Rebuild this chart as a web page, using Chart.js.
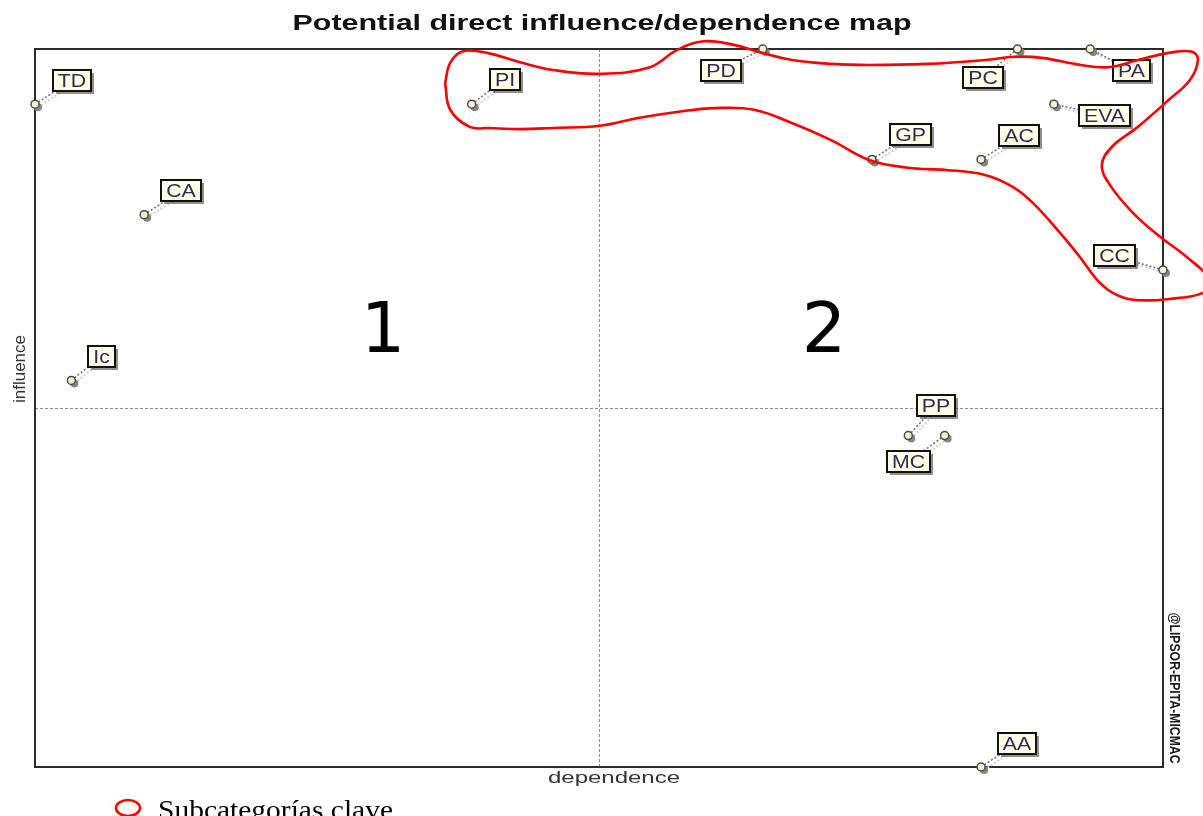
<!DOCTYPE html>
<html>
<head>
<meta charset="utf-8">
<title>Potential direct influence/dependence map</title>
<script src="https://cdn.jsdelivr.net/npm/chart.js@4.4.1/dist/chart.umd.min.js"></script>
<style>
  html, body { margin: 0; padding: 0; background: #fff; overflow: hidden; }
  #wrap { width: 1203px; height: 816px; }
</style>
</head>
<body>
<div id="wrap"><canvas id="mapChart" width="1203" height="816"></canvas></div>
<script>
// Subcategorías (variables MICMAC)
const names = ['TD', 'PI', 'PD', 'PC', 'PA', 'EVA', 'GP', 'AC', 'CA', 'CC', 'Ic', 'PP', 'MC', 'AA']
const dependence = [0, 12, 20, 27, 29, 28, 23, 26, 3, 31, 1, 24, 25, 26]
const influence = [12, 12, 13, 13, 13, 12, 11, 11, 10, 9, 7, 6, 6, 0]

// axis ranges (no tick labels on the original)
const depRange = [0, 31]
const infRange = [0, 13]

// hand-drawn outline around the key subcategories, in axis units
const outlineDep = [11.27, 11.41, 11.76, 12.42, 13.33, 14.24, 15.53, 16.90, 17.64, 18.39, 19.24, 19.98, 20.80, 21.88,
  22.92, 24.51, 26.11, 26.93, 27.67, 28.75, 29.49, 30.31, 31.16, 31.80, 31.96, 31.74, 31.16, 30.31, 29.60, 29.32,
  29.54, 30.18, 30.92, 31.66, 32.29, 32.15, 31.11, 30.18, 29.63, 29.19, 28.72, 28.17, 27.43, 26.88, 26.11, 25.04,
  23.99, 22.92, 21.88, 20.80, 19.76, 18.69, 17.64, 16.57, 15.53, 14.24, 13.33, 12.50, 11.95, 11.41, 11.27]
const outlineInf = [12.38, 12.75, 12.96, 12.93, 12.76, 12.62, 12.55, 12.67, 12.98, 13.14, 13.07, 12.93, 12.80, 12.73,
  12.71, 12.73, 12.80, 12.86, 12.84, 12.71, 12.67, 12.80, 12.93, 12.95, 12.80, 12.44, 12.08, 11.59, 11.23, 10.90,
  10.54, 10.03, 9.60, 9.23, 8.82, 8.60, 8.47, 8.46, 8.58, 8.82, 9.23, 9.67, 10.21, 10.50, 10.72, 10.81,
  10.85, 10.99, 11.35, 11.66, 11.90, 11.93, 11.86, 11.75, 11.61, 11.57, 11.55, 11.57, 11.59, 11.90, 12.38]

const legendLabel = 'Subcategorías clave'

// where each label box sits relative to its point (px)
const labelPlacement = {
  TD: [37, -24], PI: [33, -25], PD: [-42, 21], PC: [-34, 28], PA: [41, 21], EVA: [51, 11], GP: [39, -25],
  AC: [38, -24], CA: [37, -24], CC: [-49, -14], Ic: [30, -24], PP: [28, -30], MC: [-36, 26], AA: [36, -24]
}

// draws text squeezed/stretched horizontally to a given width
function fitText(ctx, text, x, y, width, align) {
  const w = ctx.measureText(text).width
  ctx.save()
  ctx.translate(x, y)
  ctx.scale(width / w, 1)
  ctx.textAlign = align || 'center'
  ctx.fillText(text, 0, 0)
  ctx.restore()
}

const micmacPlugin = {
  id: 'micmac',
  beforeDatasetsDraw(chart) {
    const { ctx, chartArea: a, scales } = chart
    const midX = scales.x.getPixelForValue((depRange[0] + depRange[1]) / 2)
    const midY = scales.y.getPixelForValue((infRange[0] + infRange[1]) / 2)

    ctx.save()
    ctx.strokeStyle = '#8a8a8a'
    ctx.lineWidth = 1
    ctx.setLineDash([3, 2])
    ctx.beginPath()
    ctx.moveTo(Math.round(midX) + 0.5, a.top)
    ctx.lineTo(Math.round(midX) + 0.5, a.bottom)
    ctx.moveTo(a.left, Math.round(midY) + 0.5)
    ctx.lineTo(a.right, Math.round(midY) + 0.5)
    ctx.stroke()
    ctx.setLineDash([])
    ctx.strokeStyle = '#2b2b2b'
    ctx.lineWidth = 2
    ctx.strokeRect(a.left, a.top, a.right - a.left, a.bottom - a.top)
    ctx.restore()
  },
  beforeDatasetDraw(chart, args) {
    if (args.index !== 0) return
    const ctx = chart.ctx
    const meta = args.meta
    ctx.save()
    meta.data.forEach((pt, i) => {
      const off = labelPlacement[names[i]]
      const bx = pt.x + off[0]
      const by = pt.y + off[1]
      // connector shadow + dotted connector
      ctx.lineWidth = 2
      ctx.setLineDash([2, 2])
      ctx.strokeStyle = '#cfcfcf'
      ctx.beginPath()
      ctx.moveTo(pt.x + 3, pt.y + 3)
      ctx.lineTo(bx + 3, by + 3)
      ctx.stroke()
      ctx.strokeStyle = '#707070'
      ctx.lineWidth = 1.5
      ctx.beginPath()
      ctx.moveTo(pt.x, pt.y)
      ctx.lineTo(bx, by)
      ctx.stroke()
      ctx.setLineDash([])
      // marker shadow
      ctx.fillStyle = '#858585'
      ctx.beginPath()
      ctx.arc(pt.x + 3, pt.y + 3, 4, 0, Math.PI * 2)
      ctx.fill()
    })
    ctx.restore()
  },
  afterDatasetDraw(chart, args) {
    if (args.index !== 0) return
    const ctx = chart.ctx
    ctx.save()
    ctx.font = '19px "Liberation Sans", Arial, sans-serif'
    ctx.textBaseline = 'middle'
    args.meta.data.forEach((pt, i) => {
      const name = names[i]
      const off = labelPlacement[name]
      const bx = pt.x + off[0]
      const by = pt.y + off[1]
      const tw = ctx.measureText(name).width * 1.12
      const w = Math.round(tw + 10)
      const h = 21
      const x0 = Math.round(bx - w / 2)
      const y0 = Math.round(by - h / 2)
      ctx.fillStyle = 'rgba(70,70,70,0.6)'
      ctx.fillRect(x0 + 3, y0 + 3, w, h)
      ctx.fillStyle = '#fffde4'
      ctx.fillRect(x0, y0, w, h)
      ctx.strokeStyle = '#111'
      ctx.lineWidth = 2
      ctx.strokeRect(x0, y0, w, h)
      ctx.fillStyle = '#2c2a58'
      fitText(ctx, name, x0 + w / 2, y0 + h / 2 + 1, tw)
    })
    ctx.restore()
  },
  afterDraw(chart) {
    const { ctx, chartArea: a } = chart
    ctx.save()
    ctx.fillStyle = '#111'
    ctx.textBaseline = 'alphabetic'

    // title
    ctx.font = 'bold 22px "Liberation Sans", Arial, sans-serif'
    fitText(ctx, 'Potential direct influence/dependence map', 602, 30, 619)

    // axis titles
    ctx.fillStyle = '#333'
    ctx.font = '16px "Liberation Sans", Arial, sans-serif'
    fitText(ctx, 'dependence', 614, 783, 132)
    ctx.save()
    ctx.translate(25, 369)
    ctx.rotate(-Math.PI / 2)
    fitText(ctx, 'influence', 0, 0, 68)
    ctx.restore()

    // copyright stamp
    ctx.fillStyle = '#1a1a1a'
    ctx.font = 'bold 14px "Liberation Sans", Arial, sans-serif'
    ctx.save()
    ctx.translate(1170, 688)
    ctx.rotate(Math.PI / 2)
    fitText(ctx, '@LIPSOR-EPITA-MICMAC', 0, 0, 151)
    ctx.restore()

    // quadrant numbers
    ctx.fillStyle = '#000'
    ctx.font = '70px "DejaVu Sans", sans-serif'
    ctx.textAlign = 'center'
    ctx.fillText('1', a.left + 348, 352)
    ctx.fillText('2', a.left + 789, 352)

    // legend
    ctx.strokeStyle = '#ff0000'
    ctx.lineWidth = 2.5
    ctx.beginPath()
    ctx.ellipse(128, 808, 12, 8, 0, 0, Math.PI * 2)
    ctx.stroke()
    ctx.fillStyle = '#000'
    ctx.font = '28px "Liberation Serif", "Times New Roman", serif'
    fitText(ctx, legendLabel, 158, 819, 235, 'left')
    ctx.restore()
  }
}

const ctx = document.getElementById('mapChart')

new Chart(ctx, {
  type: 'scatter',
  data: {
    datasets: [{
      label: 'subcategorías',
      data: names.map((n, i) => ({ x: dependence[i], y: influence[i] })),
      pointStyle: 'circle',
      pointRadius: 4,
      pointBackgroundColor: '#f6f2cf',
      pointBorderColor: '#4a4a4a',
      pointBorderWidth: 1.5,
      clip: false,
      order: 1
    }, {
      label: legendLabel,
      data: outlineDep.map((d, i) => ({ x: d, y: outlineInf[i] })),
      showLine: true,
      tension: 0.4,
      borderColor: '#ff0000',
      borderWidth: 2.6,
      pointRadius: 0,
      fill: false,
      clip: false,
      order: 0
    }]
  },
  options: {
    responsive: false,
    animation: false,
    events: [],
    layout: {
      padding: { left: 35, top: 49, right: 40, bottom: 49 }
    },
    plugins: {
      legend: { display: false },
      title: { display: false },
      tooltip: { enabled: false }
    },
    scales: {
      x: { type: 'linear', min: depRange[0], max: depRange[1], display: false },
      y: { type: 'linear', min: infRange[0], max: infRange[1], display: false }
    }
  },
  plugins: [micmacPlugin]
})
</script>
</body>
</html>
